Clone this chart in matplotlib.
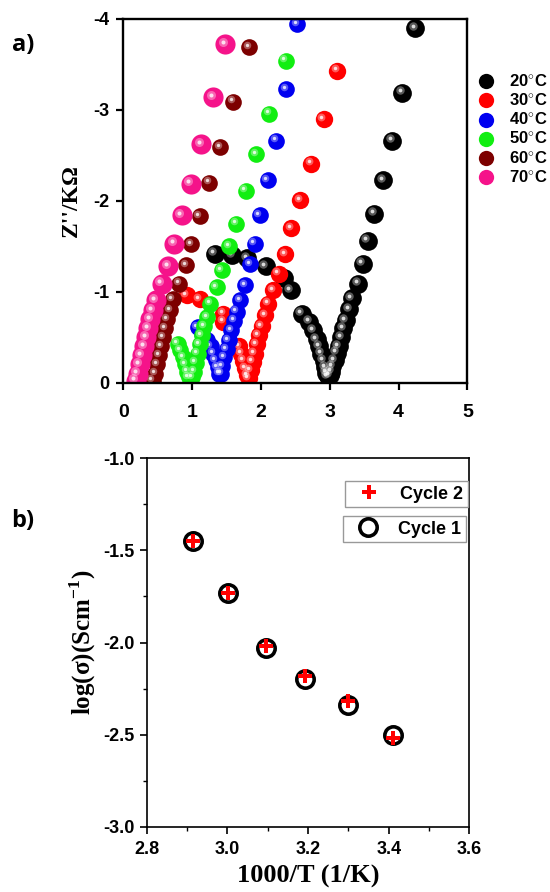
import matplotlib
matplotlib.use("Agg")
import matplotlib.pyplot as plt
from matplotlib.transforms import offset_copy
from matplotlib.lines import Line2D

plt.rcParams["mathtext.fontset"] = "custom"
plt.rcParams["mathtext.rm"] = "Liberation Serif"
plt.rcParams["mathtext.bf"] = "Liberation Serif:bold"

# ---------------- Data: Nyquist plots (Z' in kOhm, Z'' in kOhm) ----------------
temps = ["20", "30", "40", "50", "60", "70"]
colors = ["#000000", "#ff0000", "#0000f0", "#11ee11", "#7d0000", "#f5138a"]
msizes = [13.5, 12.5, 12, 12, 12, 14.5]

z20_re = [2.97, 2.95, 2.93, 2.91, 2.88, 2.85, 2.81, 2.76, 2.70, 2.59, 2.43, 2.33, 2.07, 1.80, 1.58, 1.33,
          3.00, 3.02, 3.04, 3.07, 3.10, 3.13, 3.17, 3.20, 3.23, 3.28, 3.32, 3.41, 3.48, 3.55, 3.65, 3.78, 3.91, 4.05, 4.24]
z20_im = [-0.07, -0.11, -0.17, -0.24, -0.32, -0.40, -0.48, -0.58, -0.67, -0.76, -1.02, -1.15, -1.28, -1.37, -1.40, -1.42,
          -0.08, -0.12, -0.18, -0.25, -0.33, -0.40, -0.50, -0.60, -0.69, -0.81, -0.93, -1.09, -1.31, -1.56, -1.86, -2.23, -2.66, -3.19, -3.90]

z30_re = [1.80, 1.77, 1.74, 1.71, 1.68, 1.45, 1.45, 1.11, 0.92,
          1.82, 1.85, 1.88, 1.91, 1.94, 1.97, 2.01, 2.06, 2.11, 2.18, 2.26, 2.35, 2.44, 2.57, 2.73, 2.91, 3.11]
z30_im = [-0.08, -0.16, -0.24, -0.32, -0.40, -0.67, -0.76, -0.92, -0.96,
          -0.05, -0.14, -0.23, -0.32, -0.42, -0.52, -0.62, -0.74, -0.87, -1.02, -1.20, -1.41, -1.70, -2.01, -2.41, -2.90, -3.43]

z40_re = [1.39, 1.37, 1.34, 1.31, 1.27, 1.22, 1.14, 1.08,
          1.42, 1.44, 1.47, 1.50, 1.53, 1.57, 1.61, 1.65, 1.70, 1.77, 1.84, 1.91, 1.98, 2.10, 2.22, 2.37, 2.53]
z40_im = [-0.10, -0.17, -0.25, -0.32, -0.40, -0.47, -0.54, -0.61,
          -0.10, -0.18, -0.28, -0.37, -0.47, -0.58, -0.68, -0.78, -0.91, -1.07, -1.30, -1.53, -1.84, -2.23, -2.66, -3.23, -3.94]

z50_re = [0.95, 0.93, 0.90, 0.87, 0.83, 0.79,
          1.00, 1.03, 1.05, 1.08, 1.11, 1.14, 1.18, 1.22, 1.26, 1.36, 1.43, 1.54, 1.64, 1.78, 1.93, 2.12, 2.36]
z50_im = [-0.06, -0.12, -0.20, -0.28, -0.36, -0.43,
          -0.06, -0.12, -0.22, -0.32, -0.42, -0.52, -0.62, -0.72, -0.87, -1.05, -1.24, -1.50, -1.75, -2.11, -2.51, -2.96, -3.54]

z60_re = [0.43, 0.46, 0.49, 0.52, 0.55, 0.58, 0.61, 0.64, 0.68, 0.72, 0.81, 0.91, 0.99, 1.11, 1.25, 1.41, 1.60, 1.83]
z60_im = [-0.02, -0.10, -0.20, -0.30, -0.40, -0.50, -0.60, -0.70, -0.80, -0.92, -1.09, -1.29, -1.52, -1.83, -2.20, -2.59, -3.09, -3.69]

z70_re = [0.18, 0.21, 0.24, 0.27, 0.30, 0.33, 0.36, 0.39, 0.43, 0.47, 0.56, 0.65, 0.74, 0.85, 0.98, 1.13, 1.31, 1.48]
z70_im = [-0.02, -0.10, -0.20, -0.30, -0.40, -0.50, -0.60, -0.70, -0.80, -0.91, -1.09, -1.28, -1.53, -1.84, -2.19, -2.62, -3.14, -3.72]

nyq_re = [z20_re, z30_re, z40_re, z50_re, z60_re, z70_re]
nyq_im = [z20_im, z30_im, z40_im, z50_im, z60_im, z70_im]

# ---------------- Data: Arrhenius ----------------
inv_T = [2.914, 3.002, 3.095, 3.193, 3.299, 3.411]
log_sigma_c1 = [-1.45, -1.73, -2.03, -2.20, -2.34, -2.50]
log_sigma_c2 = [-1.45, -1.73, -2.02, -2.18, -2.32, -2.52]

xticks_a = [0, 1, 2, 3, 4, 5]
yticks_a = [0, -1, -2, -3, -4]
xticks_b = [2.8, 3.0, 3.2, 3.4, 3.6]
yticks_b = [-1.0, -1.5, -2.0, -2.5, -3.0]

# ---------------- Figure ----------------
fig = plt.figure(figsize=(5.5, 8.92), dpi=100)
sans = "Liberation Sans"
serif = "Liberation Serif"

# ---- Panel a ----
ax1 = fig.add_axes([0.2242, 0.571, 0.6255, 0.4077])
hl = offset_copy(ax1.transData, fig=fig, x=-2.4, y=2.4, units="dots")
for re, im, c, ms in zip(nyq_re, nyq_im, colors, msizes):
    ax1.plot(re, im, "o", color=c, markersize=ms, markeredgewidth=0, zorder=2)
    ax1.plot(re, im, "o", color="white", alpha=0.35, markersize=ms * 0.45, markeredgewidth=0,
             transform=hl, zorder=2)
    ax1.plot(re, im, "o", color="white", alpha=0.8, markersize=ms * 0.2, markeredgewidth=0,
             transform=hl, zorder=2)
ax1.set_xlim(0, 5)
ax1.set_ylim(0, -4)
ax1.set_xticks(xticks_a)
ax1.set_yticks(yticks_a)
ax1.set_xticklabels([str(v) for v in xticks_a], fontfamily=sans, fontweight="bold", fontsize=14)
ax1.set_yticklabels([str(v) for v in yticks_a], fontfamily=sans, fontweight="bold", fontsize=13)
ax1.tick_params(axis="x", direction="out", length=5, width=1.6, pad=10)
ax1.tick_params(axis="y", direction="out", length=5, width=1.6, pad=5)
for s in ax1.spines.values():
    s.set_linewidth(1.7)
ax1.set_ylabel("Z''/K\u03a9", fontfamily=serif, fontweight="bold", fontsize=17, labelpad=8)

handles = []
for t, c in zip(temps, colors):
    handles.append(Line2D([], [], marker="o", linestyle="none", color=c, markersize=11, markeredgewidth=0))
labels = [t + r"$^{\circ}$C" for t in temps]
leg = ax1.legend(handles, labels, loc="upper left", bbox_to_anchor=(1.03, 0.85), frameon=False,
                 prop={"family": sans, "weight": "bold", "size": 12}, labelspacing=0.15,
                 handletextpad=0.9, borderaxespad=0, borderpad=0, handlelength=1.0)

fig.text(0.022, 0.9495, "a)", fontfamily="Open Sans", fontweight="bold", fontsize=17, va="center")

# ---- Panel b ----
ax2 = fig.add_axes([0.2667, 0.0732, 0.5869, 0.413])
l1, = ax2.plot(inv_T, log_sigma_c1, "o", markerfacecolor="none", markeredgecolor="black",
               markersize=12.5, markeredgewidth=2.6, label="Cycle 1", zorder=2)
l2, = ax2.plot(inv_T, log_sigma_c2, "P", color="#ff0000", markersize=10, markeredgewidth=0,
               label="Cycle 2", zorder=3)
ax2.set_xlim(2.8, 3.6)
ax2.set_ylim(-3.0, -1.0)
ax2.set_xticks(xticks_b)
ax2.set_yticks(yticks_b)
ax2.set_xticks([2.9, 3.1, 3.3, 3.5], minor=True)
ax2.set_yticks([-1.25, -1.75, -2.25, -2.75], minor=True)
ax2.set_xticklabels(["%.1f" % v for v in xticks_b], fontfamily=sans, fontweight="bold", fontsize=13)
ax2.set_yticklabels(["%.1f" % v for v in yticks_b], fontfamily=sans, fontweight="bold", fontsize=13)
ax2.tick_params(axis="y", which="major", direction="out", length=5, width=1.2, pad=3.5)
ax2.tick_params(axis="y", which="minor", direction="out", length=3, width=1.0)
ax2.tick_params(axis="x", which="major", direction="out", length=5, width=1.2, pad=5.5)
ax2.tick_params(axis="x", which="minor", direction="out", length=3, width=1.0)
for s in ax2.spines.values():
    s.set_linewidth(1.2)
ax2.set_xlabel("1000/T (1/K)", fontfamily=serif, fontweight="bold", fontsize=19, labelpad=5)
ax2.set_ylabel("log(\u03c3)(Scm$^{\\mathbf{-1}}$)", fontfamily=serif, fontweight="bold", fontsize=18, labelpad=4)

legprops = {"family": sans, "weight": "bold", "size": 13}
lg2 = ax2.legend([l2], ["Cycle 2"], loc="upper right", bbox_to_anchor=(0.9944, 0.9384), prop=legprops,
                 fancybox=False, edgecolor="#999999", framealpha=1, borderpad=0.25, handletextpad=0.6,
                 handlelength=2.2, borderaxespad=0)
lg2.get_frame().set_linewidth(1.0)
ax2.add_artist(lg2)
lg1 = ax2.legend([l1], ["Cycle 1"], loc="upper right", bbox_to_anchor=(0.989, 0.8434), prop=legprops,
                 fancybox=False, edgecolor="#999999", framealpha=1, borderpad=0.25, handletextpad=0.6,
                 handlelength=2.2, borderaxespad=0)
lg1.get_frame().set_linewidth(1.0)

fig.text(0.02, 1 - 521 / 892, "b)", fontfamily="Open Sans", fontweight="bold", fontsize=17, va="center")

fig.savefig("out.png", dpi=100)
